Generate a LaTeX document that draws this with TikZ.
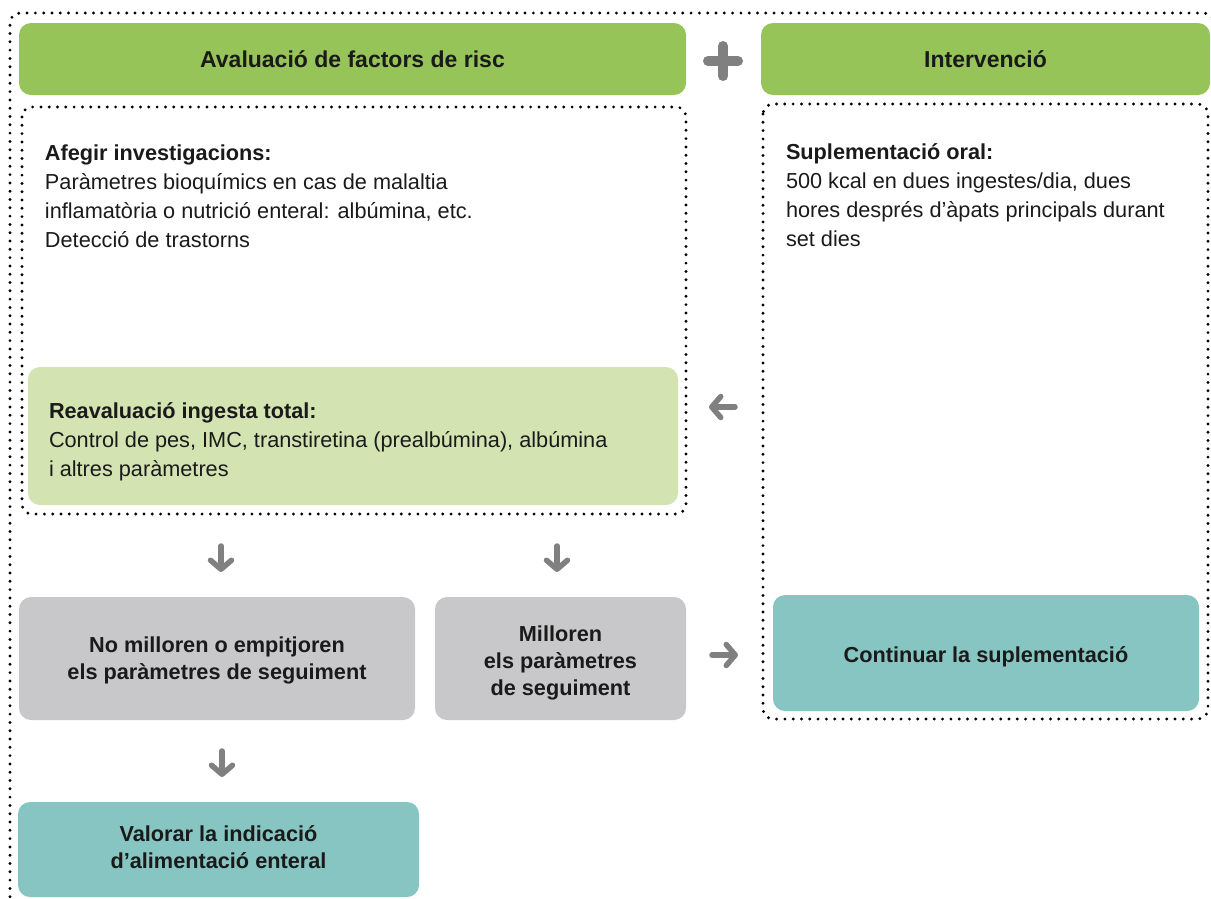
\documentclass[tikz,border=0pt]{standalone}
\usepackage{fontspec}
\setmainfont{Liberation Sans}
\usetikzlibrary{arrows.meta}
\definecolor{hdrgreen}{HTML}{97C459}
\definecolor{palegreen}{HTML}{D3E3B2}
\definecolor{boxgray}{HTML}{C8C8CA}
\definecolor{teal}{HTML}{87C5C2}
\definecolor{arrowgray}{HTML}{808080}
\definecolor{ink}{HTML}{1A1A1A}
\begin{document}
\begin{tikzpicture}[x=1pt,y=-1pt,
  every node/.style={inner sep=0pt, outer sep=0pt, text=ink},
  panel/.style={rounded corners=12pt, minimum width=#1},
  hdr/.style={panel=#1, fill=hdrgreen, minimum height=72pt,
    font=\fontsize{23}{28}\selectfont\bfseries},
  result/.style={align=center,
    font=\fontsize{21.7}{27}\selectfont\bfseries},
  body/.style={align=left, anchor=base west,
    font=\fontsize{21.7}{29}\selectfont},
  dotline/.style={draw=black, line width=3.2pt, line cap=round,
    dash pattern=on 0pt off 8.3pt, rounded corners=10pt},
  flow/.style={draw=arrowgray, line width=5.5pt, line cap=round,
    -{Straight Barb[round, length=9pt, width=21pt]}},
]
\useasboundingbox (0,0) rectangle (1211,898);

% outer dotted frame
\draw[dotline] (10,905) -- (10,13) -- (1214,13) -- (1214,905);

% column headers
\node[hdr=667pt] (risc) at (352.5,59) {Avaluació de factors de risc};
\node[hdr=449pt] (interv) at (985.5,59) {Intervenció};
\draw[arrowgray, line width=10pt, line cap=round]
  (708,61) -- (738,61) (723,46) -- (723,76);

% inner dotted frames
\draw[dotline] (22,107) rectangle (686,514);
\draw[dotline] (763,104) rectangle (1208,719);

% assessment text (anchored on the baseline of its last line)
\node[body] (inv) at (45,247) {\textbf{Afegir investigacions:}\\
  Paràmetres bioquímics en cas de malaltia\\
  inflamatòria o nutrició enteral: albúmina, etc.\\
  Detecció de trastorns};

% oral supplementation text
\node[body] (supl) at (786,246) {\textbf{Suplementació oral:}\\
  500 kcal en dues ingestes/dia, dues\\
  hores després d’àpats principals durant\\
  set dies};

% reassessment box
\node[panel=650pt, fill=palegreen, minimum height=138pt] (reav) at (353,436) {};
\node[body] (reavtxt) at (49,476) {\textbf{Reavaluació ingesta total:}\\
  Control de pes, IMC, transtiretina (prealbúmina), albúmina\\
  i altres paràmetres};

% outcome boxes
\node[panel=396pt, fill=boxgray, minimum height=123pt] (nomill) at (217,658.5) {};
\node[panel=251pt, fill=boxgray, minimum height=123pt] (mill) at (560.5,658.5) {};
\node[panel=426pt, fill=teal, minimum height=116pt] (cont) at (986,653) {};
\node[panel=401pt, fill=teal, minimum height=95pt] (enteral) at (218.5,849.5) {};

\node[result] (nomilltxt) at ([yshift=-2pt]nomill.center)
  {No milloren o empitjoren\\els paràmetres de seguiment};
\node[result] (milltxt) at ([yshift=-4pt]mill.center)
  {Milloren\\els paràmetres\\de seguiment};
\node[result] (conttxt) at ([yshift=-3.5pt]cont.center)
  {Continuar la suplementació};
\node[result] (enteraltxt) at ([yshift=2pt]enteral.center)
  {Valorar la indicació\\d’alimentació enteral};

% flow arrows
\coordinate (a1s) at (221,546);  \coordinate (a1e) at (221,572);
\coordinate (a2s) at (557,546);  \coordinate (a2e) at (557,572);
\coordinate (a3s) at (222,751);  \coordinate (a3e) at (222,777);
\coordinate (a4s) at (735,407);  \coordinate (a4e) at (709,407);
\coordinate (a5s) at (712,655);  \coordinate (a5e) at (738,655);
\draw[flow] (a1s) -- (a1e);
\draw[flow] (a2s) -- (a2e);
\draw[flow] (a3s) -- (a3e);
\draw[flow] (a4s) -- (a4e);
\draw[flow] (a5s) -- (a5e);
\end{tikzpicture}
\end{document}
